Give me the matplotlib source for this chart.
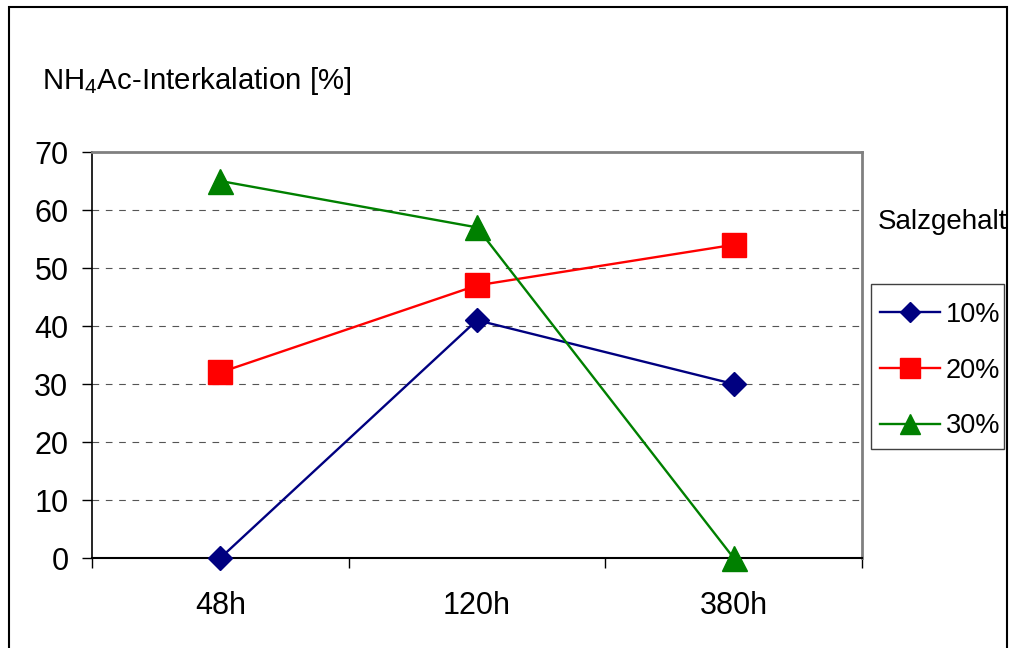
import matplotlib.pyplot as plt
from matplotlib.patches import Rectangle
from matplotlib.ticker import FixedLocator

plt.rcParams['font.family'] = ['Liberation Sans', 'DejaVu Sans']
plt.rcParams['mathtext.fontset'] = 'custom'
plt.rcParams['mathtext.rm'] = 'Liberation Sans'

# data
times = ['48h', '120h', '380h']
salt_labels = ['10%', '20%', '30%']
salt_10 = [0, 41, 30]
salt_20 = [32, 47, 54]
salt_30 = [65, 57, 0]
y_ticks = [0, 10, 20, 30, 40, 50, 60, 70]

W, H = 1012, 648
fig = plt.figure(figsize=(W / 100, H / 100), dpi=100)
ax = fig.add_axes([92 / W, 1 - 558 / H, (862 - 92) / W, (558 - 152) / H])

x = range(len(times))
styles = [
    (salt_10, '#000080', 'D', 12),
    (salt_20, '#ff0000', 's', 17),
    (salt_30, '#008000', '^', 18),
]
for (vals, col, mk, ms), lab in zip(styles, salt_labels):
    ax.plot(x, vals, color=col, lw=1.7, marker=mk, markersize=ms,
            markeredgecolor=col, label=lab, clip_on=False, zorder=3)

ax.set_xlim(-0.5, len(times) - 0.5)
ax.set_ylim(0, 70)
ax.set_yticks(y_ticks)
ax.set_xticks(list(x))
ax.set_xticklabels(times)
ax.xaxis.set_minor_locator(FixedLocator([i - 0.5 for i in range(len(times) + 1)]))
ax.tick_params(axis='x', which='major', length=0, pad=24, labelsize=22)
ax.tick_params(axis='x', which='minor', length=7, width=1, direction='out')
ax.tick_params(axis='y', length=7, width=1, direction='out', pad=10, labelsize=22)

for y in y_ticks[1:-1]:
    ax.axhline(y, color='#555555', lw=0.8, ls=(0, (6, 6)), zorder=1)

ax.spines['left'].set_color('black')
ax.spines['bottom'].set_color('black')
ax.spines['left'].set_linewidth(1.2)
ax.spines['bottom'].set_linewidth(1.5)
ax.spines['top'].set_color('#808080')
ax.spines['right'].set_color('#808080')
ax.spines['top'].set_linewidth(2)
ax.spines['right'].set_linewidth(2)

fig.text(42 / W, 1 - 89 / H, r'NH$_{\mathrm{4}}$Ac-Interkalation [%]',
         fontsize=21.2, va='baseline', ha='left')
fig.text(878 / W, 1 - 222 / H, 'Salzgehalt', fontsize=20,
         va='center', ha='left')

# legend frame drawn separately so the box can be placed exactly
box_l, box_r, box_t, box_b = 871, 1004, 284, 449
fig.patches.append(Rectangle((box_l / W, 1 - box_b / H), (box_r - box_l) / W,
                             (box_b - box_t) / H, transform=fig.transFigure,
                             fill=False, edgecolor='#404040', lw=1))
fig.legend(loc='center', bbox_to_anchor=((box_l + box_r) / 2 / W + 3 / W,
                                         1 - (box_t + box_b) / 2 / H - 4 / H),
           borderaxespad=0, fontsize=19.5, numpoints=1, handlelength=2.2,
           handletextpad=0.22, labelspacing=1.1, borderpad=0,
           markerscale=0.83, frameon=False)

fig.patches.append(Rectangle((9 / W, -0.01), (1007 - 9) / W, 1 - 7 / H + 0.01,
                             transform=fig.transFigure, fill=False,
                             edgecolor='black', lw=1.5, zorder=5))

fig.savefig('out.png', dpi=100)
